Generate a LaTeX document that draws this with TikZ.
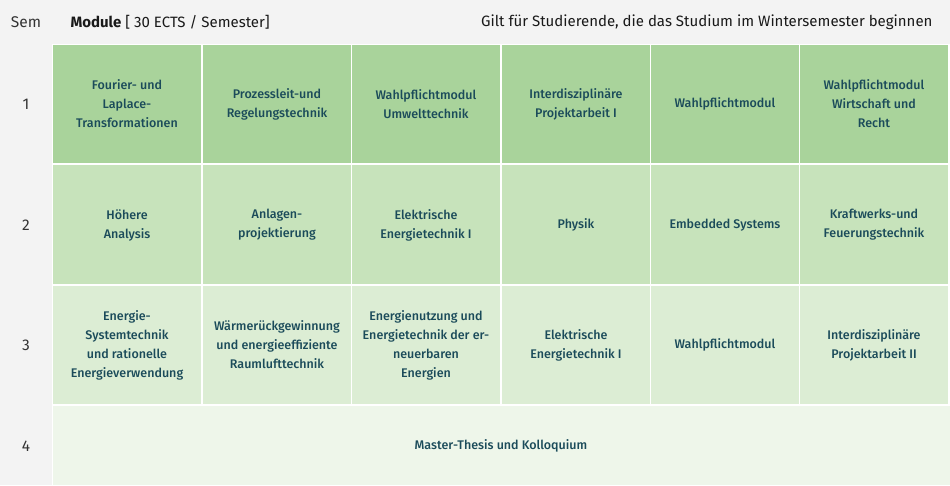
\documentclass[tikz,border=0pt]{standalone}
\usepackage{fontspec}
\setmainfont{Fira Sans}
\newfontfamily\medf{Fira Sans Medium}
\definecolor{bgg}{HTML}{F3F3F3}
\definecolor{rA}{HTML}{A9D39B}
\definecolor{rB}{HTML}{C7E3BB}
\definecolor{rC}{HTML}{DCEDD4}
\definecolor{rD}{HTML}{EEF6EA}
\definecolor{tx}{HTML}{1B4B5A}
\begin{document}
\begin{tikzpicture}[x=1pt,y=-1pt,
  cellbox/.style={draw=none,inner sep=0pt,anchor=north west},
  celltxt/.style={text=tx,align=center,font=\medf\fontsize{12.5}{19}\selectfont},
  semlbl/.style={font=\fontsize{15.5}{17}\selectfont,text=black!80}]
\fill[white] (0,0) rectangle (950,485);
\fill[bgg] (0,0) rectangle (950,44);
\fill[bgg] (0,44) rectangle (52,485);
\node[semlbl] (hs) at (26,22) {Sem};
\node[anchor=west,font=\fontsize{15}{17}\selectfont,text=black!90] (hm) at (67,22) {\textbf{Module} [ 30 ECTS / Semester]};
\node[anchor=east,font=\fontsize{15}{17}\selectfont,text=black!90] (hg) at (936,22) {Gilt für Studierende, die das Studium im Wintersemester beginnen};
\node[semlbl] (s1) at (26,104) {1};
\node[semlbl] (s2) at (26,225) {2};
\node[semlbl] (s3) at (26,345) {3};
\node[semlbl] (s4) at (26,446) {4};
\def\xs{{53,203,352,502,651,800}}
\foreach \t [count=\i] in {{Fourier- und\\Laplace-\\Transformationen},{Prozessleit-und\\Regelungstechnik},{Wahlpflichtmodul\\Umwelttechnik},{Interdisziplinäre\\Projektarbeit I},{Wahlpflichtmodul},{Wahlpflichtmodul\\Wirtschaft und\\Recht}}{
  \pgfmathsetmacro\xx{\xs[\i-1]}
  \node[cellbox,fill=rA,minimum width=148pt,minimum height=118pt] (a\i) at (\xx,45) {};
  \node[celltxt] (at\i) at (\xx+74,104) {\t};
}
\foreach \t [count=\i] in {{Höhere\\Analysis},{Anlagen-\\projektierung},{Elektrische\\Energietechnik I},{Physik},{Embedded Systems},{Kraftwerks-und\\Feuerungstechnik}}{
  \pgfmathsetmacro\xx{\xs[\i-1]}
  \node[cellbox,fill=rB,minimum width=148pt,minimum height=119pt] (b\i) at (\xx,165) {};
  \node[celltxt] (bt\i) at (\xx+74,225) {\t};
}
\foreach \t [count=\i] in {{Energie-\\Systemtechnik\\und rationelle\\Energieverwendung},{Wärmerückgewinnung\\und energieeffiziente\\Raumlufttechnik},{Energienutzung und\\Energietechnik der er-\\neuerbaren\\Energien},{Elektrische\\Energietechnik I},{Wahlpflichtmodul},{Interdisziplinäre\\Projektarbeit II}}{
  \pgfmathsetmacro\xx{\xs[\i-1]}
  \node[cellbox,fill=rC,minimum width=148pt,minimum height=118pt] (c\i) at (\xx,286) {};
  \node[celltxt] (ct\i) at (\xx+74,345) {\t};
}
\fill[rD] (53,406) rectangle (950,485);
\node[celltxt] (d) at (501,446) {Master-Thesis und Kolloquium};
\end{tikzpicture}
\end{document}
